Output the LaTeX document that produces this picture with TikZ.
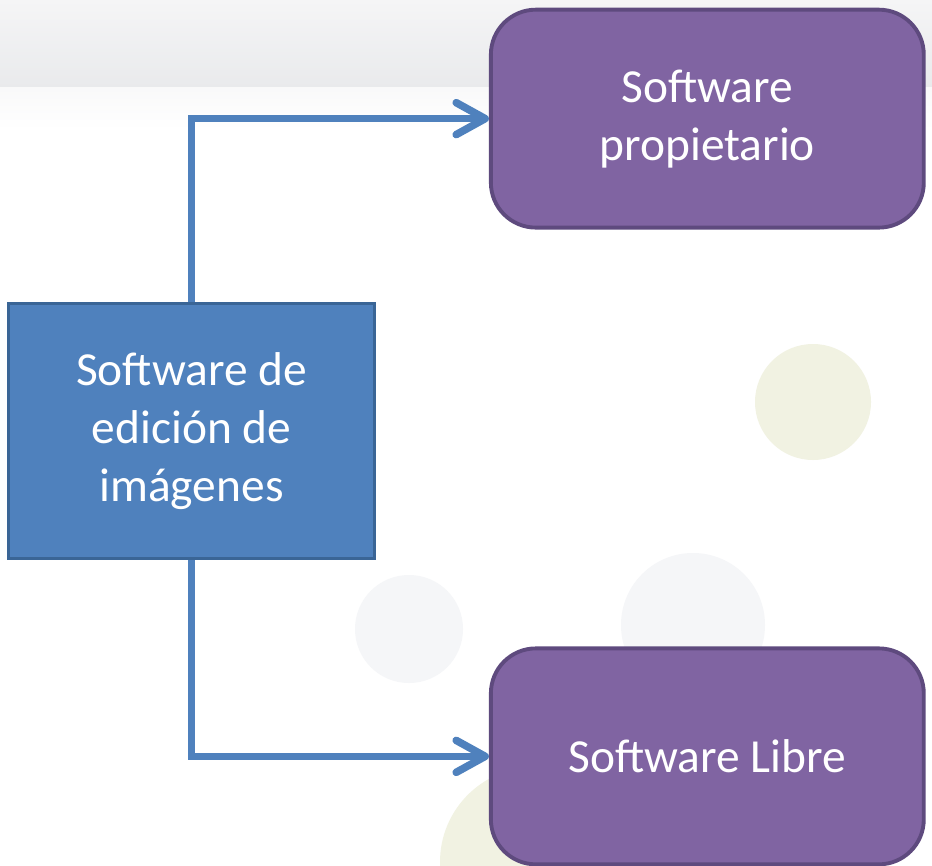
\documentclass[tikz,border=0pt]{standalone}
\usepackage{fontspec}
\setmainfont{Carlito}
\usetikzlibrary{positioning,arrows.meta}

\definecolor{boxblue}{HTML}{4F81BD}
\definecolor{boxblueline}{HTML}{3A6596}
\definecolor{boxpurple}{HTML}{8064A2}
\definecolor{boxpurpleline}{HTML}{5E4A7E}
\definecolor{bandtop}{HTML}{F5F5F6}
\definecolor{bandbot}{HTML}{E9EAEC}
\definecolor{dotgreen}{HTML}{F1F2E2}
\definecolor{dotgrey}{HTML}{F5F6F8}

\tikzset{
   boxtext/.style={text=white, align=center,
      font=\fontsize{27}{33}\selectfont},
   mainbox/.style={boxtext, rectangle, fill=boxblue, draw=boxblueline,
      line width=1.7pt, minimum width=7.34cm, minimum height=5.12cm},
   kindbox/.style={boxtext, rectangle, rounded corners=0.9cm, fill=boxpurple,
      draw=boxpurpleline, line width=2.2pt, minimum width=8.66cm},
   link/.style={draw=boxblue, line width=4.3pt,
      -{Straight Barb[length=0.58cm,width=0.64cm,round]}},
}

\begin{document}
\begin{tikzpicture}[x=0.02cm,y=-0.02cm]

   % background
   \fill[white] (0,0) rectangle (932,865);
   \useasboundingbox (0,0) rectangle (932,865);
   \fill[top color=bandtop, bottom color=bandbot] (0,0) rectangle (932,88);
   \fill[top color=bandtop!60!white, bottom color=white] (0,88) rectangle (932,130);
   \begin{scope}
      \clip (0,0) rectangle (932,865);
      \fill[dotgreen] (813,402) circle (58);
      \fill[dotgrey]  (409,629) circle (54);
      \fill[dotgrey]  (693,625) circle (72);
      \fill[dotgreen] (535,862) circle (95);
   \end{scope}

   % boxes
   \node[mainbox] (edit) at (191.5,431) {Software de\\edición de\\imágenes};
   \node[kindbox, minimum height=4.36cm,
      above right=1.44cm and 2.25cm of edit] (prop) {Software\\propietario};
   \node[kindbox, minimum height=4.32cm,
      below right=1.72cm and 2.25cm of edit] (libre) {Software Libre};

   % connectors
   \draw[link] (edit.north) |- (prop.west);
   \draw[link] (edit.south) |- (libre.west);

\end{tikzpicture}
\end{document}
